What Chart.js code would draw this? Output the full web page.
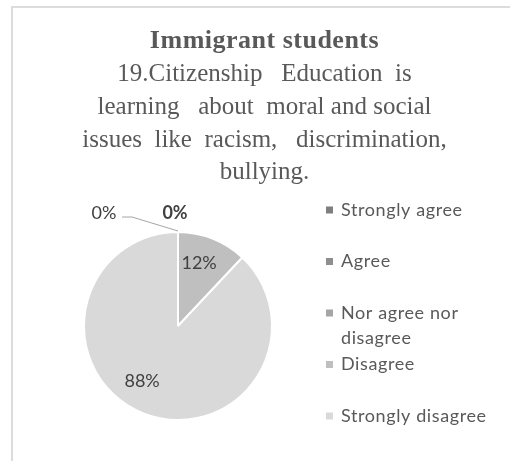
<!DOCTYPE html>
<html>
<head>
<meta charset="utf-8">
<script src="https://cdn.jsdelivr.net/npm/chart.js@4/dist/chart.umd.min.js"></script>
<style>
  html, body { margin: 0; padding: 0; background: #fff; }
  #wrap { position: relative; width: 510px; height: 461px; }
</style>
</head>
<body>
<div id="wrap"><canvas id="pie"></canvas></div>
<script>
// Survey answers, share of respondents per option
const categories = ['Strongly agree', 'Agree', 'Nor agree nor disagree', 'Disagree', 'Strongly disagree'];
const values = [0, 0, 0, 12, 88];
const sliceColors = ['#7f7f7f', '#8e8e8e', '#a5a5a5', '#bfbfbf', '#d9d9d9'];

const titleLine = 'Immigrant students';
const subtitleLines = [
    '19.Citizenship   Education  is',
    'learning   about  moral and social',
    'issues  like  racism,   discrimination,',
    'bullying.'
];

const textColor = '#595959';
const labelColor = '#404040';
const sansFont = 'Lato, "Open Sans", sans-serif';
const serifFont = '"Liberation Serif", Tinos, "DejaVu Serif", serif';

// Frame lines along the top and left edge
const framePlugin = {
    id: 'frame',
    beforeDraw(chart) {
        const ctx = chart.ctx;
        ctx.save();
        ctx.fillStyle = '#fff';
        ctx.fillRect(0, 0, chart.width, chart.height);
        ctx.strokeStyle = '#dcdcdc';
        ctx.lineWidth = 2;
        ctx.beginPath();
        ctx.moveTo(chart.width, 7);
        ctx.lineTo(12, 7);
        ctx.lineTo(12, chart.height);
        ctx.stroke();
        ctx.restore();
    }
};

// Heading text centred over the whole card, bold first line
const headingPlugin = {
    id: 'heading',
    afterDraw(chart) {
        const ctx = chart.ctx;
        const cx = 264.5;
        ctx.save();
        ctx.fillStyle = textColor;
        ctx.textAlign = 'center';
        ctx.textBaseline = 'alphabetic';
        ctx.font = 'bold 26px ' + serifFont;
        ctx.letterSpacing = '0.5px';
        ctx.fillText(titleLine, cx, 48);
        ctx.font = '25px ' + serifFont;
        ctx.letterSpacing = '0px';
        subtitleLines.forEach((line, i) => {
            ctx.fillText(line, cx, 81 + i * 32.8);
        });
        ctx.restore();
    }
};

// Percentage labels on the slices; zero slices get outside labels
const sliceLabelPlugin = {
    id: 'sliceLabels',
    afterDatasetsDraw(chart) {
        const ctx = chart.ctx;
        const meta = chart.getDatasetMeta(0);
        const data = chart.data.datasets[0].data;
        const total = data.reduce((a, b) => a + b, 0);
        ctx.save();
        ctx.fillStyle = labelColor;
        ctx.textAlign = 'center';
        ctx.textBaseline = 'middle';
        let zeroCount = 0;
        meta.data.forEach((arc, i) => {
            const pct = Math.round(data[i] / total * 100) + '%';
            const {x, y, startAngle, endAngle, outerRadius} = arc.getProps(['x', 'y', 'startAngle', 'endAngle', 'outerRadius'], true);
            const mid = (startAngle + endAngle) / 2;
            if (data[i] === 0) {
                const ex = x + Math.cos(mid) * outerRadius;
                const ey = y + Math.sin(mid) * outerRadius;
                if (zeroCount === 0) {
                    // pulled out to the left with a leader line
                    ctx.font = '18px ' + sansFont;
                    ctx.strokeStyle = '#a6a6a6';
                    ctx.lineWidth = 1;
                    ctx.beginPath();
                    ctx.moveTo(ex, ey - 1);
                    ctx.lineTo(ex - 46, ey - 15);
                    ctx.lineTo(ex - 56, ey - 15);
                    ctx.stroke();
                    ctx.fillText(pct, ex - 74, ey - 19);
                } else if (zeroCount === 1) {
                    ctx.font = 'bold 18px ' + sansFont;
                    ctx.fillText(pct, ex - 3, ey - 19);
                }
                zeroCount++;
                return;
            }
            ctx.font = '18px ' + sansFont;
            const r = outerRadius * 0.7;
            const shift = data[i] > 50 ? 0.2 : -0.05;
            ctx.fillText(pct, x + Math.cos(mid + shift) * r, y + Math.sin(mid + shift) * r);
        });
        ctx.restore();
    }
};

// Legend on the right, long entries wrap onto a second line
const sideLegendPlugin = {
    id: 'sideLegend',
    afterDraw(chart) {
        const ctx = chart.ctx;
        const left = 326, textX = 341, top = 210, slot = 51.5, maxW = 160, lineH = 25;
        ctx.save();
        ctx.font = '18px ' + sansFont;
        ctx.letterSpacing = '0.6px';
        ctx.textAlign = 'left';
        ctx.textBaseline = 'middle';
        chart.data.labels.forEach((label, i) => {
            const y = top + i * slot;
            ctx.fillStyle = chart.data.datasets[0].backgroundColor[i];
            ctx.fillRect(left, y - 3.5, 7, 7);
            ctx.fillStyle = textColor;
            const words = label.split(' ');
            const lines = [];
            let cur = '';
            words.forEach(w => {
                const test = cur ? cur + ' ' + w : w;
                if (ctx.measureText(test).width > maxW && cur) {
                    lines.push(cur);
                    cur = w;
                } else {
                    cur = test;
                }
            });
            lines.push(cur);
            lines.forEach((ln, k) => ctx.fillText(ln, textX, y + k * lineH));
        });
        ctx.restore();
    }
};

new Chart(document.getElementById('pie'), {
    type: 'pie',
    data: {
        labels: categories,
        datasets: [{
            data: values,
            backgroundColor: sliceColors,
            borderColor: '#ffffff',
            borderWidth: 2
        }]
    },
    options: {
        responsive: true,
        maintainAspectRatio: false,
        animation: false,
        layout: {
            padding: { top: 231, left: 83, right: 237, bottom: 40 }
        },
        plugins: {
            legend: { display: false },
            title: { display: false },
            tooltip: { enabled: false }
        }
    },
    plugins: [framePlugin, headingPlugin, sliceLabelPlugin, sideLegendPlugin]
});
</script>
</body>
</html>
